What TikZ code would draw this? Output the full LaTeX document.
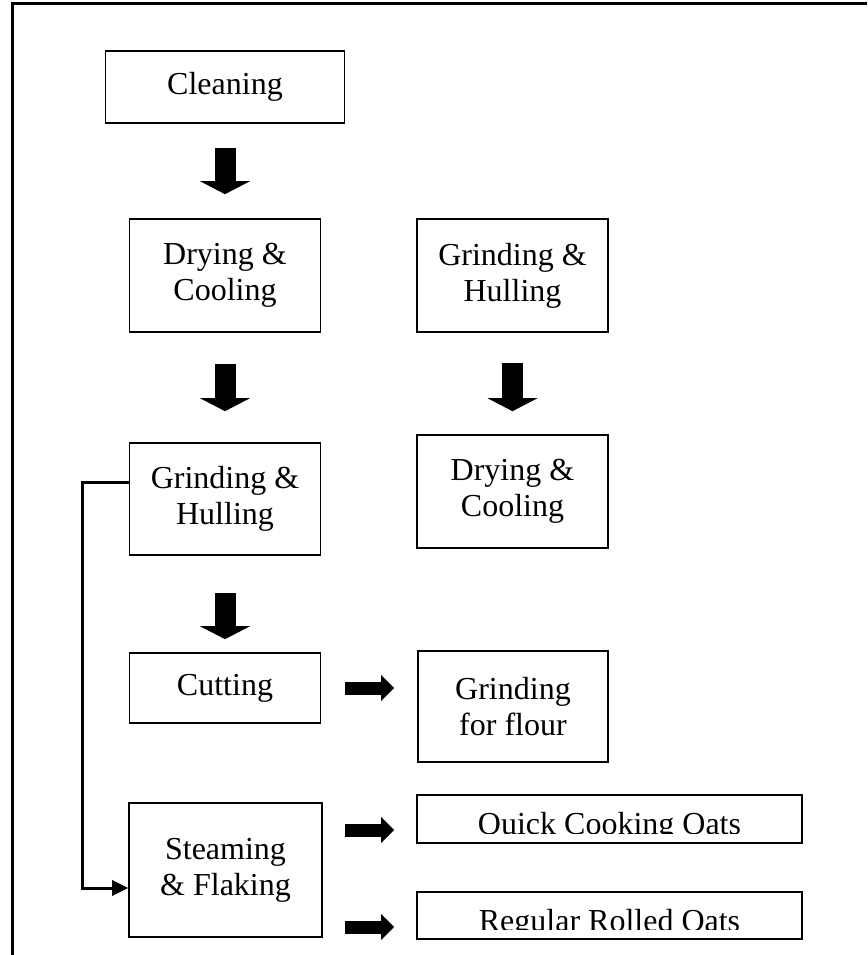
\documentclass[tikz,border=0pt]{standalone}
\usepackage{fontspec}
\setmainfont{Liberation Serif}
\usetikzlibrary{arrows.meta}

\begin{document}
\begin{tikzpicture}[x=1pt, y=-1pt,
	font=\fontsize{32}{36}\selectfont,
	stage/.style={draw=black, line width=1.6pt, fill=white, shape=rectangle, align=center, inner sep=0pt},
	blockdown/.style={line width=21pt, -{Triangle[length=13pt, width=50pt, line width=0pt]}},
	blockright/.style={line width=13pt, -{Triangle[length=13pt, width=26pt, line width=0pt]}},
	link/.style={line width=3pt, -{Triangle[length=16pt, width=16pt, line width=0pt]}},
	frame/.style={line width=3.3pt}]
	\useasboundingbox (0, 0) rectangle (867, 955);
	\draw [frame] (867, 3.3) -- (12.5, 3.3) -- (12.5, 955);

	\node [stage, minimum width=239pt, minimum height=72pt] (clean) at (225, 87) {Cleaning};
	\node [stage, minimum width=191pt, minimum height=113pt] (dry1) at (225, 275.5) {Drying \&\\Cooling};
	\node [stage, minimum width=191pt, minimum height=112pt] (grind1) at (225, 499) {Grinding \&\\Hulling};
	\node [stage, minimum width=191pt, minimum height=70pt] (cut) at (225, 688) {Cutting};
	\node [stage, minimum width=193pt, minimum height=134pt] (steam) at (225.5, 870) {Steaming\\\& Flaking};

	\node [stage, minimum width=191pt, minimum height=113pt] (grind2) at (512.5, 275.5) {Grinding \&\\Hulling};
	\node [stage, minimum width=191pt, minimum height=113pt] (dry2) at (512.5, 491.5) {Drying \&\\Cooling};
	\node [stage, minimum width=190pt, minimum height=111pt] (flour) at (513, 706.5) {Grinding\\for flour};

	\node [stage, minimum width=385pt, minimum height=48pt] (quick) at (609.5, 819) {};
	\node [stage, minimum width=385pt, minimum height=47pt] (regular) at (609.5, 915.5) {};
	\begin{scope}
		\clip (quick.north west) rectangle ([yshift=10pt]quick.south east);
		\node [anchor=base] (quicktext) at ([yshift=-15.5pt]quick.center) {Quick Cooking Oats};
	\end{scope}
	\begin{scope}
		\clip (regular.north west) rectangle ([yshift=10pt]regular.south east);
		\node [anchor=base] (regulartext) at ([yshift=-16pt]regular.center) {Regular Rolled Oats};
	\end{scope}

	\draw [blockdown, shorten <=24pt, shorten >=24pt] (clean.south) -- (clean.south |- dry1.north);
	\draw [blockdown, shorten <=31pt, shorten >=31pt] (dry1) -- (grind1);
	\draw [blockdown, shorten <=37pt, shorten >=13pt] (grind1) -- (cut);
	\draw [blockdown, shorten <=30pt, shorten >=23pt] (grind2) -- (dry2);

	\draw [blockright, shorten <=24pt, shorten >=23pt] (cut.east) -- (cut.east -| flour.west);
	\draw [blockright, shorten <=22pt, shorten >=22pt] ([yshift=40pt]steam.east) -- ([yshift=40pt]steam.east -| quick.west);
	\draw [blockright, shorten <=22pt, shorten >=22pt] ([yshift=-57pt]steam.east) -- ([yshift=-57pt]steam.east -| regular.west);

	\draw [link] ([yshift=17pt]grind1.west) -- ++(-46pt, 0) |- ([yshift=-18pt]steam.west);
\end{tikzpicture}
\end{document}
